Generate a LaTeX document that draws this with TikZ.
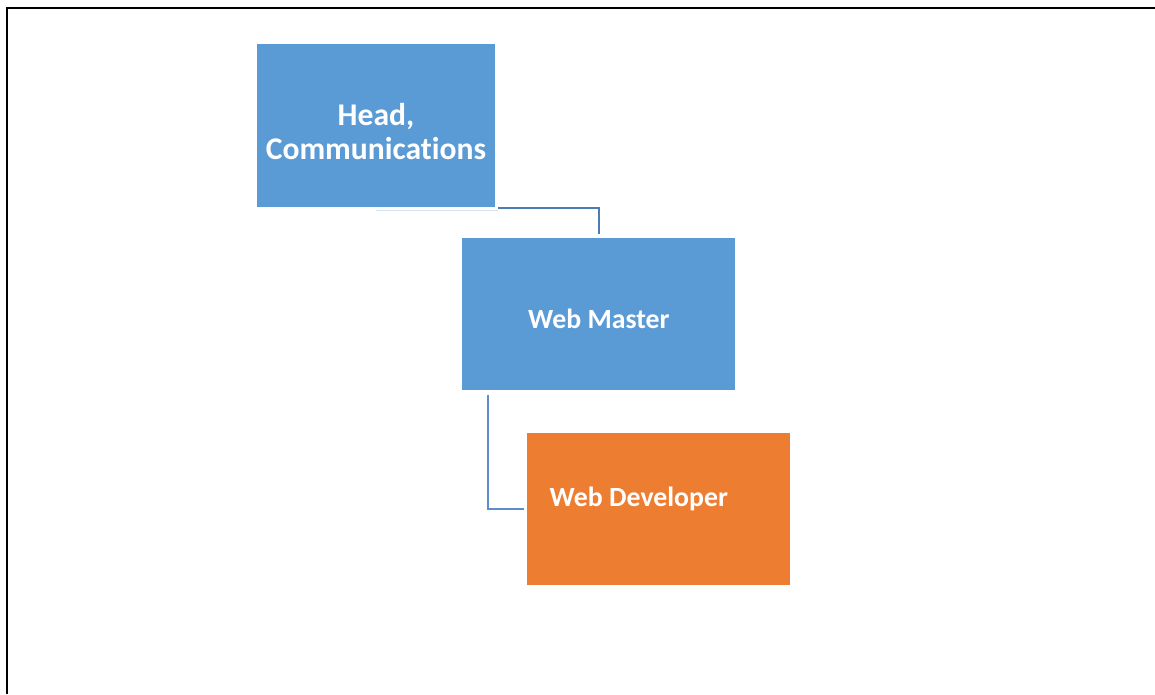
\documentclass[tikz,border=0pt]{standalone}
\usepackage{fontspec}
\setmainfont{Carlito}[Ligatures=CommonOff]
\usetikzlibrary{positioning}
\definecolor{boxblue}{HTML}{5B9BD5}
\definecolor{boxorange}{HTML}{ED7D31}
\definecolor{linkdark}{HTML}{4A7DB4}
\definecolor{linklight}{HTML}{5A8FCB}
\definecolor{linkfaint}{HTML}{D3E1F1}

\begin{document}
\begin{tikzpicture}[x=1pt, y=-1pt]
      \tikzset{every node/.style={text=white}}
      \tikzset{unit/.style = {shape=rectangle, fill=boxblue, inner sep=0pt, minimum height=152pt}}
      \tikzset{bigtext/.style = {font=\bfseries\fontsize{31.6}{34}\selectfont}}
      \tikzset{smalltext/.style = {font=\bfseries\fontsize{27.8}{33}\selectfont}}
      \tikzset{link/.style = {draw=linkdark, line width=2pt}}

      \useasboundingbox (0,0) rectangle (1155,694);
      % page frame
      \coordinate (pagebl) at (7,694);
      \coordinate (pagetl) at (7,7.5);
      \coordinate (pagetr) at (1155,7.5);
      \draw[line width=2pt] (pagebl) -- (pagetl) -- (pagetr);

      \node[unit, bigtext, align=center, text height=69pt, minimum width=238pt, minimum height=163pt] (head) at (376,125.5) {Head,\\Communications};
      \node[unit, smalltext, text height=27.4pt, text depth=0pt, minimum width=273pt, below right=31pt and -33pt of head.south east] (master) {Web Master};
      \node[unit, fill=boxorange, minimum width=263pt, below right=42pt and 65pt of master.south west,
            label={[smalltext, anchor=west, xshift=19pt, yshift=10pt]west:Web Developer}] (dev) {};

      \draw[draw=linkfaint, line width=1pt] ([yshift=-3pt]head.south) -- ([xshift=3pt, yshift=-3pt]head.south east);
      \draw[link] ([xshift=3pt, yshift=-1pt]head.south east) -| ([yshift=4pt]master.north);
      \draw[link, draw=linklight] ([xshift=26pt, yshift=-4pt]master.south west) |- ([xshift=-3pt]dev.west);
\end{tikzpicture}
\end{document}
